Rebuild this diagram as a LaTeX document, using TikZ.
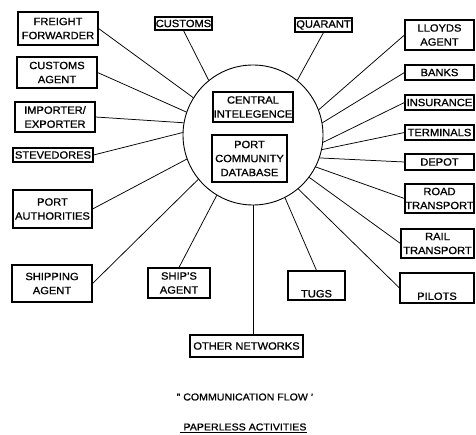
\documentclass[tikz,border=0pt]{standalone}
\usepackage{fontspec}
\setmainfont[FakeStretch=1.06,FakeBold=1]{Liberation Sans}
\begin{document}
\begin{tikzpicture}[x=1pt,y=-1pt,
  box/.style={draw, line width=1.1pt, inner sep=0pt, align=center,
    font=\fontsize{10.5}{14}\selectfont},
  link/.style={line width=0.75pt},
  caption/.style={font=\fontsize{10}{12}\selectfont, inner sep=0pt}]
\useasboundingbox (0,0) rectangle (476,435);
% central circle
\node[draw, circle, line width=0.9pt, minimum size=140pt, inner sep=0pt] (c) at (253,135) {};
\node[box, minimum width=80pt, minimum height=30pt] (ci) at (253,107) {CENTRAL\\INTELEGENCE};
\node[box, minimum width=75pt, minimum height=47pt] (pc) at (249.5,158.5) {PORT\\COMMUNITY\\DATABASE};
% left boxes
\node[box, minimum width=80pt, minimum height=33pt] (ff) at (58,28.5) {FREIGHT\\FORWARDER};
\node[box, minimum width=80pt, minimum height=31pt] (ca) at (57,72.5) {CUSTOMS\\AGENT};
\node[box, minimum width=80pt, minimum height=30pt] (ie) at (55,117) {IMPORTER/\\EXPORTER};
\node[box, minimum width=80pt, minimum height=14pt] (st) at (53,155) {STEVEDORES};
\node[box, minimum width=79pt, minimum height=38pt] (pa) at (52.5,209) {PORT\\AUTHORITIES};
\node[box, minimum width=80pt, minimum height=37pt] (sa) at (52,283.5) {SHIPPING\\AGENT};
% top boxes
\node[box, minimum width=57pt, minimum height=13pt] (cu) at (183.5,23.5) {CUSTOMS};
\node[box, minimum width=57pt, minimum height=14pt] (qu) at (323.5,25) {QUARANT};
% right boxes
\node[box, minimum width=69pt, minimum height=30pt] (la) at (439.5,35) {LLOYDS\\AGENT};
\node[box, minimum width=69pt, minimum height=15pt] (ba) at (439.5,72.5) {BANKS};
\node[box, minimum width=69pt, minimum height=15pt] (in) at (439.5,102.5) {INSURANCE};
\node[box, minimum width=69pt, minimum height=15pt] (te) at (439.5,132.5) {TERMINALS};
\node[box, minimum width=69pt, minimum height=16pt] (de) at (439.5,162) {DEPOT};
\node[box, minimum width=69pt, minimum height=29pt] (rt) at (439.5,198.5) {ROAD\\TRANSPORT};
\node[box, minimum width=73pt, minimum height=29pt] (ra) at (437.5,243.5) {RAIL\\TRANSPORT};
\node[box, minimum width=74pt, minimum height=30pt] (pi) at (437,288) {\strut\\PILOTS};
% bottom boxes
\node[box, minimum width=62pt, minimum height=30pt] (sh) at (179,283) {SHIP'S\\AGENT};
\node[box, minimum width=57pt, minimum height=29pt] (tu) at (316.5,285.5) {\strut\\TUGS};
\node[box, minimum width=113pt, minimum height=22pt] (on) at (246.5,346) {OTHER NETWORKS};
% captions
\node[caption] (cf) at (245,397) {'' COMMUNICATION FLOW '};
\node[caption] (pl) at (245,427) {PAPERLESS ACTIVITIES};
\draw[line width=0.9pt] ([yshift=-1.5pt,xshift=-3pt]pl.south west) -- ([yshift=-1.5pt]pl.south east);
% connectors
\draw[link] (ff.east) -- (c.148);
\draw[link] (ca.east) -- (c.161);
\draw[link] (ie.east) -- (c.170);
\draw[link] (st.east) -- (c.178);
\draw[link] (pa.east) -- (c.200);
\draw[link] (sa.east) -- (c.219);
\draw[link] (cu.south) -- (c.129);
\draw[link] (qu.south) -- (c.51);
\draw[link] (la.west) -- (c.21);
\draw[link] (ba.west) -- (c.10);
\draw[link] (in.west) -- (c.-6);
\draw[link] (te.west) -- (c.-12);
\draw[link] (de.west) -- (c.-19);
\draw[link] (rt.west) -- (c.-27);
\draw[link] (ra.west) -- (c.-37);
\draw[link] (pi.west) -- (c.-50);
\draw[link] (tu.north) -- (c.-63);
\draw[link] (sh.north) -- (c.-121);
\draw[link] (c.-90) -- (c.-90 |- on.north);
\end{tikzpicture}
\end{document}
